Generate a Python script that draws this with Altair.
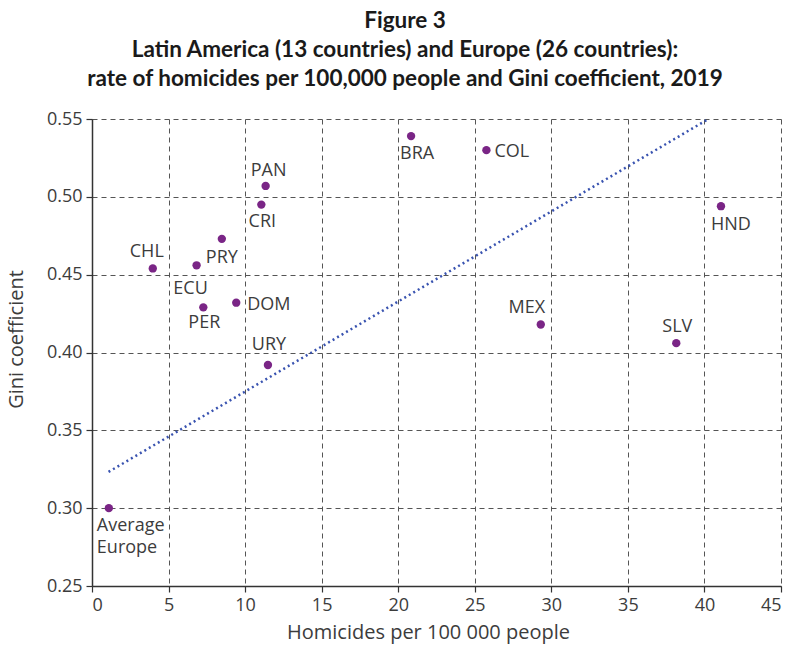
import altair as alt
import pandas as pd

codes = ["Average\nEurope", "CHL", "ECU", "PER", "PRY", "DOM", "CRI", "PAN", "URY",
         "BRA", "COL", "MEX", "SLV", "HND"]
homicides = [1.1, 3.97, 6.83, 7.27, 8.48, 9.42, 11.06, 11.34, 11.49,
             20.84, 25.76, 29.31, 38.16, 41.08]
gini = [0.300, 0.454, 0.456, 0.429, 0.473, 0.432, 0.495, 0.507, 0.392,
        0.539, 0.530, 0.418, 0.406, 0.494]

trend_x = [1.08, 40.16]
trend_y = [0.3233, 0.5494]

x_ticks = [0, 5, 10, 15, 20, 25, 30, 35, 40, 45]
y_ticks = [0.25, 0.30, 0.35, 0.40, 0.45, 0.50, 0.55]

title_lines = ["Figure 3",
               "Latin America (13 countries) and Europe (26 countries):",
               "rate of homicides per 100,000 people and Gini coefficient, 2019"]

df = pd.DataFrame({"code": codes, "x": homicides, "y": gini})
tdf = pd.DataFrame({"x": trend_x, "y": trend_y})

FONT = "Open Sans"
TXT = "#3c3c3c"

xs = alt.Scale(domain=[0, 45], nice=False, zero=False)
ys = alt.Scale(domain=[0.25, 0.55], nice=False, zero=False)

base = alt.Chart(df)

points = base.mark_circle(size=70, color="#7a2586", opacity=1).encode(
    x=alt.X("x:Q", scale=xs, title="Homicides per 100 000 people",
            axis=alt.Axis(values=x_ticks, format="d", titleX=336)),
    y=alt.Y("y:Q", scale=ys, title="Gini coefficient",
            axis=alt.Axis(values=y_ticks, format=".2f", titleY=220)),
)

trend = alt.Chart(tdf).mark_line(color="#3953b0", strokeWidth=2.5,
                                 strokeDash=[2, 3.2]).encode(
    x=alt.X("x:Q", scale=xs), y=alt.Y("y:Q", scale=ys))

# label offsets (pixels) per country: (align, dx, dy)
offsets = {
    "Average\nEurope": ("left", -12, 18),
    "CHL": ("center", -6, -16),
    "ECU": ("center", -6, 24),
    "PER": ("center", 1, 16),
    "PRY": ("center", 0, 19),
    "DOM": ("left", 11, 2),
    "CRI": ("center", 1, 17),
    "PAN": ("center", 3, -15),
    "URY": ("center", 1, -20),
    "BRA": ("center", 6, 18),
    "COL": ("left", 8, 2),
    "MEX": ("center", -14, -16),
    "SLV": ("center", 1, -16),
    "HND": ("center", 10, 19),
}

labels = []
for c in codes:
    al, dx, dy = offsets[c]
    t = base.transform_filter(alt.datum.code == c).transform_calculate(
        lab="split(datum.code, '\\n')"
    ).mark_text(align=al, baseline="middle", dx=dx, dy=dy, fontSize=18,
                font=FONT, color=TXT, lineHeight=22).encode(
        x=alt.X("x:Q", scale=xs), y=alt.Y("y:Q", scale=ys), text="lab:N")
    labels.append(t)

chart = alt.layer(trend, points, *labels).properties(
    width=689, height=467,
    autosize=alt.AutoSizeParams(type="none"),
    padding={"left": 92, "top": 119, "right": 10, "bottom": 65},
    title=alt.TitleParams(text=title_lines, font="Lato", fontSize=22.5,
                          fontWeight="bold", color="#1a1a1a", anchor="middle",
                          frame="bounds", lineHeight=29, offset=20, dx=11),
).configure_view(stroke=None).configure_axis(
    labelFont=FONT, titleFont=FONT, labelFontSize=18, titleFontSize=20,
    labelColor=TXT, titleColor=TXT, titleFontWeight="normal",
    gridColor="#555555", gridDash=[5, 4], gridWidth=1, gridOpacity=1,
    domainColor="#333333", domainWidth=1.5, tickColor="#333333", tickSize=6,
    tickWidth=1.2, labelPadding=4,
).configure_axisX(titlePadding=8).configure_axisY(titlePadding=20)

chart.save("out.html", embed_options={"renderer": "svg", "actions": False})
